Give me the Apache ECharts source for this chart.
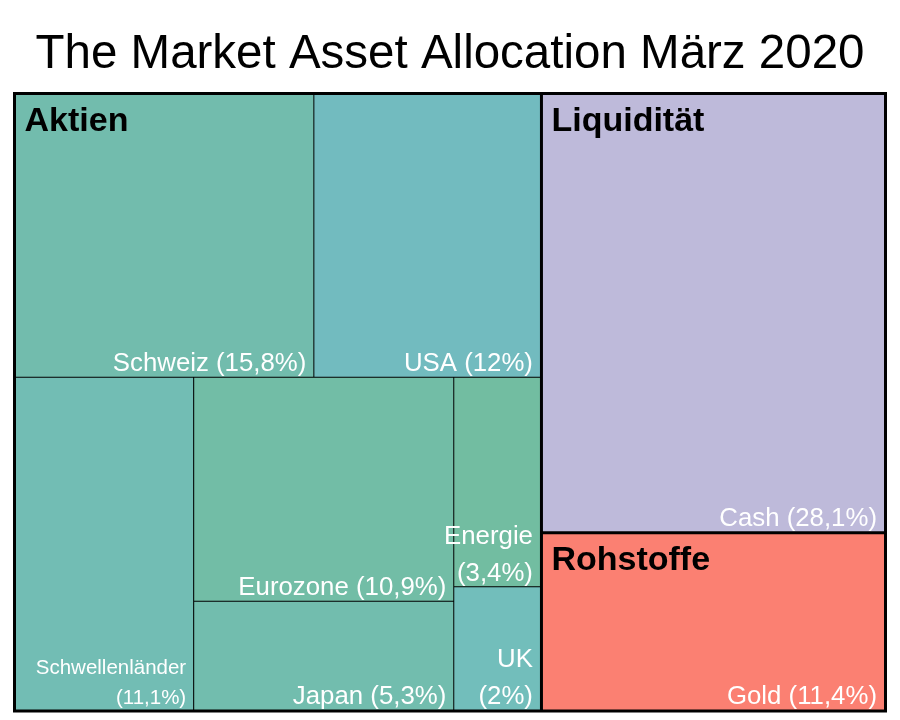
<!DOCTYPE html>
<html>
<head>
<meta charset="utf-8">
<script src="https://cdn.jsdelivr.net/npm/echarts@6/dist/echarts.min.js"></script>
<style>
  html, body { margin: 0; padding: 0; background: #fff; }
  #chart { width: 900px; height: 720px; }
</style>
</head>
<body>
<div id="chart"></div>
<script>
// ---- data ----
const titleText = 'The Market Asset Allocation März 2020';
const groupNames = ['Aktien', 'Liquidität', 'Rohstoffe'];
const aktienNames = ['Schweiz', 'USA', 'Schwellenländer', 'Eurozone', 'Japan', 'Energie', 'UK'];
const aktienValues = [15.8, 12, 11.1, 10.9, 5.3, 3.4, 2];
const liquiditaetNames = ['Cash'];
const liquiditaetValues = [28.1];
const rohstoffeNames = ['Gold'];
const rohstoffeValues = [11.4];

// ---- styles ----
const aktienColors = ['#72bcad', '#72bbbf', '#72bdb4', '#72bda6', '#72bdae', '#72bda1', '#72bebb'];
const liquiditaetColors = ['#bebada'];
const rohstoffeColors = ['#fb8072'];
const wrapNames = ['Schwellenländer', 'Energie', 'UK'];
const smallLabelNames = ['Schwellenländer'];
// layout: the first leaves sit directly in the group, the rest share a borderless block
const aktienDirectCount = 3;
const FONT = "'Liberation Sans', Arial, sans-serif";

function pct(v) { return String(v).replace('.', ','); }
function leafText(name, v) {
  return wrapNames.indexOf(name) >= 0
    ? name + '\n(' + pct(v) + '%)'
    : name + ' (' + pct(v) + '%)';
}
function leaf(name, value, color) {
  const node = { name: name, value: value, itemStyle: { color: color } };
  if (smallLabelNames.indexOf(name) >= 0) {
    node.label = { fontSize: 20.5, lineHeight: 30, offset: [0, 4] };
  }
  return node;
}
function sum(a) { return a.reduce(function (s, v) { return s + v; }, 0); }

const aktienLeaves = aktienNames.map(function (n, i) { return leaf(n, aktienValues[i], aktienColors[i]); });
const aktienChildren = aktienLeaves.slice(0, aktienDirectCount).concat([{
  name: 'rest',
  itemStyle: { borderWidth: 0, gapWidth: 0 },
  label: { show: false },
  children: aktienLeaves.slice(aktienDirectCount)
}]);

const treeData = [
  { name: groupNames[0], children: aktienChildren },
  { name: groupNames[1], children: liquiditaetNames.map(function (n, i) { return leaf(n, liquiditaetValues[i], liquiditaetColors[i]); }) },
  { name: groupNames[2], children: rohstoffeNames.map(function (n, i) { return leaf(n, rohstoffeValues[i], rohstoffeColors[i]); }) }
];
const groupData = [
  { name: groupNames[0], value: sum(aktienValues) },
  { name: groupNames[1], value: sum(liquiditaetValues) },
  { name: groupNames[2], value: sum(rohstoffeValues) }
];

const box = { left: 13, top: 92, width: 874, height: 620.5 };
const common = {
  type: 'treemap',
  left: box.left, top: box.top, width: box.width, height: box.height,
  squareRatio: 1.3,
  sort: false,
  roam: false,
  nodeClick: false,
  silent: true,
  breadcrumb: { show: false },
  drillDownIcon: '',
  animation: false
};

const chart = echarts.init(document.getElementById('chart'), null, { renderer: 'canvas' });
chart.setOption({
  backgroundColor: '#ffffff',
  animation: false,
  title: {
    text: titleText,
    left: 'center',
    top: 31,
    padding: 0,
    textStyle: { fontSize: 47.5, fontWeight: 'normal', color: '#000', fontFamily: FONT }
  },
  series: [
    Object.assign({}, common, {
      z: 2,
      data: treeData,
      levels: [
        { itemStyle: { borderWidth: 1.5, borderColor: '#000', gapWidth: 0 } },
        { itemStyle: { borderWidth: 1, borderColor: '#000', gapWidth: 0 } },
        { itemStyle: { borderWidth: 0.5, borderColor: '#000', gapWidth: 0 } },
        { itemStyle: { borderWidth: 0.5, borderColor: '#000', gapWidth: 0 } }
      ],
      label: {
        show: true,
        position: 'insideBottomRight',
        distance: 0,
        padding: [0, 7, 0, 0],
        offset: [0, 6],
        color: '#ffffff',
        fontFamily: FONT,
        fontSize: 25.8,
        lineHeight: 37,
        overflow: 'none',
        formatter: function (p) { return leafText(p.name, p.value); }
      },
      upperLabel: { show: false }
    }),
    Object.assign({}, common, {
      z: 3,
      data: groupData,
      levels: [
        { itemStyle: { borderWidth: 1.5, borderColor: 'rgba(0,0,0,0)', color: 'rgba(0,0,0,0)', gapWidth: 0 } },
        { itemStyle: { borderWidth: 1, borderColor: 'rgba(0,0,0,0)', color: 'rgba(0,0,0,0)', gapWidth: 0 } }
      ],
      itemStyle: { color: 'rgba(0,0,0,0)', borderColor: 'rgba(0,0,0,0)' },
      label: {
        show: true,
        position: 'insideTopLeft',
        distance: 0,
        padding: [10, 0, 0, 9],
        color: '#000000',
        fontFamily: FONT,
        fontSize: 34,
        fontWeight: 'bold',
        lineHeight: 34,
        overflow: 'none',
        formatter: '{b}'
      }
    })
  ]
});
</script>
</body>
</html>
